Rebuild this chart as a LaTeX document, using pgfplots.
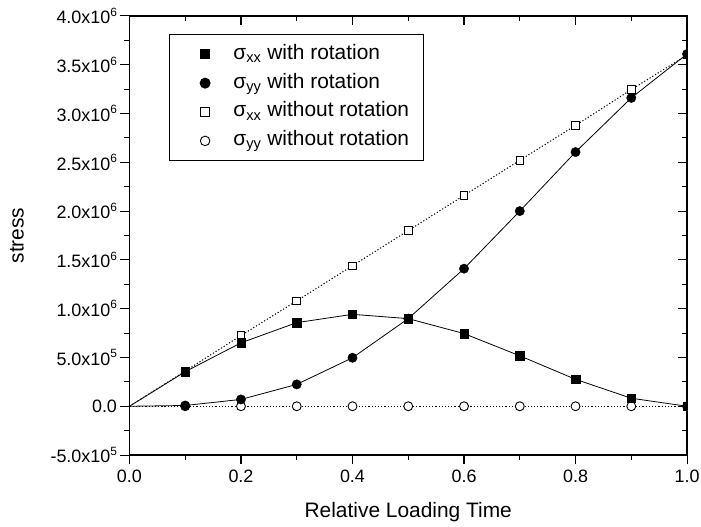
\documentclass[border=0pt]{standalone}
\usepackage{fontspec}
\setmainfont{Liberation Sans}
\usepackage{pgfplots}
\pgfplotsset{compat=1.18}
\pgfplotstableread{
x sxxr syyr sxxn syyn
0.0 0 0 0 0
0.1 354000 8000 360000 0
0.2 650000 70000 725000 0
0.3 857000 224000 1080000 0
0.4 942000 497000 1440000 0
0.5 898000 898000 1800000 0
0.6 745000 1410000 2160000 0
0.7 517000 2000000 2520000 0
0.8 276000 2605000 2878000 0
0.9 82000 3160000 3245000 0
1.0 0 3610000 3600000 0
}\datatable
\pgfplotstableread{
x sxxr syyr sxxn syyn
0.1 354000 8000 360000 0
0.2 650000 70000 725000 0
0.3 857000 224000 1080000 0
0.4 942000 497000 1440000 0
0.5 898000 898000 1800000 0
0.6 745000 1410000 2160000 0
0.7 517000 2000000 2520000 0
0.8 276000 2605000 2878000 0
0.9 82000 3160000 3245000 0
1.0 0 3610000 3600000 0
}\marktable
\newcommand{\sci}[2]{#1x10\raisebox{0.42em}{\fontsize{12}{12}\selectfont #2}}
\begin{document}
\begin{tikzpicture}
\pgfplotsset{
  common/.style={
    at={(0,0)}, anchor=south west,
    scale only axis, width=560pt, height=441pt,
    xmin=0, xmax=1, ymin=-5e5, ymax=4e6,
    xtick={0,0.2,0.4,0.6,0.8,1.0}, minor x tick num=1,
    ytick={-5e5,0,5e5,1e6,1.5e6,2e6,2.5e6,3e6,3.5e6,4e6}, minor y tick num=1,
    major tick length=9pt, minor tick length=5pt,
    scaled y ticks=false, scaled x ticks=false,
    every tick/.style={black, line width=1.1pt},
    axis line style={line width=1.5pt},
  }
}
\begin{axis}[common,
  xtick pos=left, ytick pos=left, tick align=outside,
  clip marker paths=true,
  xticklabel style={/pgf/number format/fixed, /pgf/number format/precision=1, /pgf/number format/fixed zerofill, /pgf/number format/assume math mode=true, yshift=-2pt},
  yticklabels={\sci{-5.0}{5}, 0.0, \sci{5.0}{5}, \sci{1.0}{6}, \sci{1.5}{6}, \sci{2.0}{6}, \sci{2.5}{6}, \sci{3.0}{6}, \sci{3.5}{6}, \sci{4.0}{6}},
  tick label style={font=\fontsize{18}{18}\selectfont},
  xlabel={Relative Loading Time}, ylabel={stress},
  xlabel style={font=\fontsize{21}{21}\selectfont, at={(axis description cs:0.5,0)}, anchor=base, yshift=-63pt},
  ylabel style={font=\fontsize{21}{21}\selectfont, at={(axis description cs:0,0.5)}, anchor=center, rotate=0, yshift=113pt},
  legend style={at={(rel axis cs:0,1)}, anchor=north west, xshift=40pt, yshift=-18pt, draw=black, line width=1pt,
    font=\fontsize{21}{21}\selectfont, inner xsep=4pt, inner ysep=8pt, row sep=5pt,
    nodes={inner ysep=2pt, inner xsep=3pt, text height=15pt, text depth=5pt},
    cells={anchor=west}},
  legend image code/.code={\path (0cm,0cm) (56pt,0cm); \draw[#1] plot coordinates {(31pt,0cm)};},
]
\addlegendimage{only marks, mark=square*, mark size=4.6pt, fill=black, draw=black}
\addlegendentry{σ\textsubscript{xx} with rotation}
\addlegendimage{only marks, mark=*, mark size=5pt, fill=black, draw=black}
\addlegendentry{σ\textsubscript{yy} with rotation}
\addlegendimage{only marks, mark=square*, mark size=4.2pt, fill=white, draw=black, line width=0.9pt}
\addlegendentry{σ\textsubscript{xx} without rotation}
\addlegendimage{only marks, mark=*, mark size=4.8pt, fill=white, draw=black, line width=0.9pt}
\addlegendentry{σ\textsubscript{yy} without rotation\hspace*{7pt}}

% lines
\addplot[forget plot, black, dash pattern=on 1.2pt off 2pt, line width=1pt] table[x=x, y=sxxn] {\datatable};
\addplot[forget plot, black, dash pattern=on 1.2pt off 2pt, line width=1pt] table[x=x, y=syyn] {\datatable};
\addplot[forget plot, black, line width=0.8pt] table[x=x, y=sxxr] {\datatable};
\addplot[forget plot, black, line width=0.8pt] table[x=x, y=syyr] {\datatable};
% markers
\addplot[forget plot, only marks, mark=square*, mark size=3.8pt, fill=white, draw=black, line width=0.9pt] table[x=x, y=sxxn] {\marktable};
\addplot[forget plot, only marks, mark=*, mark size=4.5pt, fill=white, draw=black, line width=0.9pt] table[x=x, y=syyn] {\marktable};
\addplot[forget plot, only marks, mark=square*, mark size=4.2pt, fill=black, draw=black] table[x=x, y=sxxr] {\marktable};
\addplot[forget plot, only marks, mark=*, mark size=4.7pt, fill=black, draw=black] table[x=x, y=syyr] {\marktable};
\end{axis}
\begin{axis}[common,
  xtick pos=right, ytick pos=right, tick align=inside,
  xticklabels={}, yticklabels={},
]
\end{axis}
\pgfresetboundingbox
\useasboundingbox (-130pt,-72pt) rectangle (574pt,457pt);
\end{tikzpicture}
\end{document}
